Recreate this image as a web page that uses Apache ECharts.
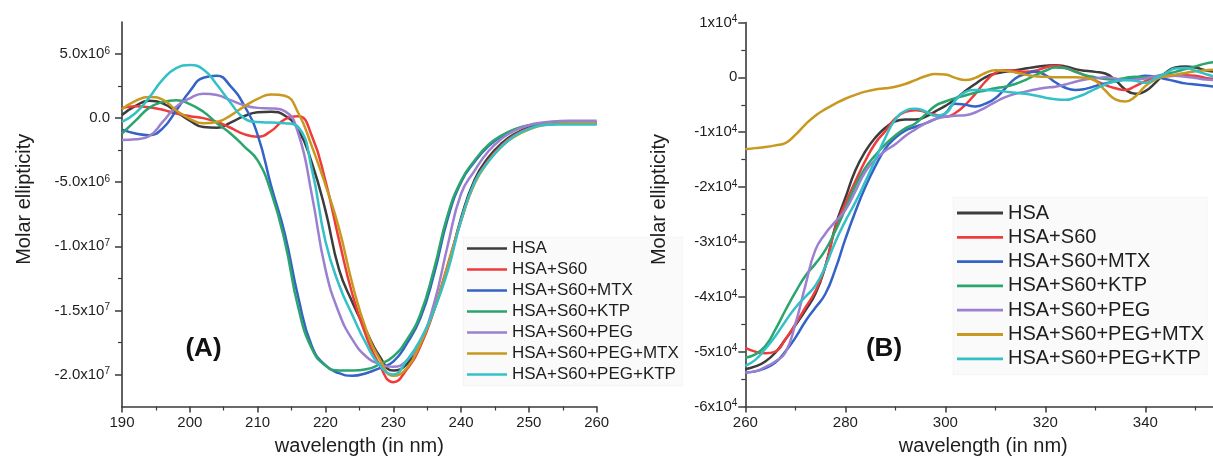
<!DOCTYPE html>
<html>
<head>
<meta charset="utf-8">
<script src="https://cdn.jsdelivr.net/npm/echarts@6/dist/echarts.min.js"></script>
<style>
html,body{margin:0;padding:0;background:#ffffff;}
#chart{width:1213px;height:465px;}
</style>
</head>
<body>
<div id="chart"></div>
<script>
// ---------------- DATA ----------------
const seriesNames = ['HSA', 'HSA+S60', 'HSA+S60+MTX', 'HSA+S60+KTP', 'HSA+S60+PEG', 'HSA+S60+PEG+MTX', 'HSA+S60+PEG+KTP'];

// Panel (A): wavelength (nm), molar ellipticity in units of 10^6
const wavelengthA = [190,192,194,196,198,200,202,204,206,208,210,212,214,216,218,220,222,224,226,228,230,232,234,236,238,240,242,244,246,248,250,252,254,256,258,260];
const a_HSA = [0.25,0.95,1.35,1.15,0.5,-0.2,-0.7,-0.75,-0.35,0.15, 0.45,0.5,0.2,-0.9,-3.5,-7.2,-11.8,-14.4,-16.6,-18.6, -19.7,-19.2,-17.5,-15.0,-11.8,-7.8,-4.8,-3.1,-1.95,-1.2, -0.75,-0.5,-0.4,-0.35,-0.35,-0.35];
const a_S60 = [0.8,0.92,0.85,0.65,0.35,0.15,0.0,-0.3,-0.75,-1.25, -1.45,-1.0,-0.1,0.15,-1.4,-4.9,-9.5,-13.8,-17.0,-19.3, -20.6,-19.6,-17.8,-15.0,-11.5,-8.0,-5.0,-3.3,-2.1,-1.3, -0.8,-0.5,-0.4,-0.35,-0.35,-0.35];
const a_MTX = [-0.9,-1.2,-1.33,-0.8,0.6,2.1,3.15,3.3,2.5,1.0, -1.3,-5.3,-9.0,-14.0,-17.8,-19.3,-19.9,-20.1,-19.9,-19.5, -19.0,-17.6,-15.6,-12.2,-7.9,-5.0,-3.4,-2.2,-1.4,-0.88, -0.6,-0.45,-0.4,-0.4,-0.4,-0.4];
const a_KTP = [-1.2,-0.2,0.8,1.25,1.4,1.1,0.5,-0.4,-1.2,-2.2, -3.3,-5.8,-9.6,-14.8,-18.0,-19.3,-19.7,-19.7,-19.6,-19.2, -18.6,-17.3,-15.3,-11.8,-7.6,-4.9,-3.3,-2.1,-1.35,-0.85, -0.55,-0.45,-0.4,-0.4,-0.4,-0.4];
const a_PEG = [-1.7,-1.65,-1.4,-0.3,0.9,1.55,1.9,1.8,1.4,1.0, 0.8,0.76,0.55,-1.2,-6.0,-11.8,-15.2,-17.3,-18.6,-19.2, -19.4,-18.9,-17.4,-14.5,-10.0,-5.9,-4.1,-2.6,-1.6,-0.95, -0.55,-0.35,-0.25,-0.2,-0.2,-0.2];
const a_PEG_MTX = [0.7,1.35,1.65,1.45,0.6,-0.05,-0.4,-0.3,0.2,0.9, 1.5,1.85,1.75,0.4,-2.2,-5.2,-8.6,-13.0,-16.5,-18.8, -20.1,-19.5,-17.6,-15.0,-11.6,-8.0,-5.1,-3.4,-2.2,-1.4, -0.9,-0.55,-0.45,-0.4,-0.4,-0.4];
const a_PEG_KTP = [-0.3,0.4,1.6,3.0,3.9,4.14,3.8,2.6,1.2,0.0, -0.3,-0.35,-0.4,-0.7,-4.0,-9.6,-13.0,-15.4,-17.6,-19.3, -20.0,-18.9,-17.3,-15.0,-12.0,-8.0,-5.0,-3.4,-2.2,-1.35, -0.85,-0.55,-0.5,-0.5,-0.5,-0.5];

// Panel (B): wavelength (nm), molar ellipticity in units of 10^4
const wavelengthB = [260,262,264,266,268,270,272,274,276,278,280,282,284,286,288,290,292,294,296,298,300,302,304,306,308,310,312,314,316,318,320,322,324,326,328,330,332,334,336,338,340,342,344,346,348,350,352,354];
const b_HSA = [-5.32,-5.27,-5.18,-5.02,-4.78,-4.52,-4.25,-3.95,-3.45,-2.72, -2.2,-1.7,-1.35,-1.1,-0.92,-0.8,-0.77,-0.77,-0.72,-0.62, -0.52,-0.4,-0.25,-0.12,0.0,0.07,0.1,0.13,0.16,0.19, 0.21,0.22,0.2,0.15,0.12,0.1,0.07,-0.05,-0.22,-0.3, -0.25,-0.1,0.08,0.18,0.2,0.18,0.13,0.1];
const b_S60 = [-4.93,-5.0,-5.03,-5.0,-4.78,-4.5,-4.2,-3.9,-3.45,-2.75, -2.3,-1.9,-1.52,-1.2,-0.98,-0.75,-0.63,-0.6,-0.63,-0.68, -0.72,-0.65,-0.5,-0.3,-0.08,0.08,0.13,0.12,0.1,0.12, 0.18,0.21,0.17,0.11,0.03,-0.06,-0.14,-0.2,-0.23,-0.16, -0.07,0.0,0.02,0.03,0.04,0.03,-0.01,-0.03];
const b_MTX = [-5.38,-5.36,-5.3,-5.2,-5.0,-4.75,-4.45,-4.2,-3.95,-3.5, -2.95,-2.45,-2.0,-1.62,-1.3,-1.1,-0.97,-0.9,-0.84,-0.76, -0.66,-0.48,-0.5,-0.53,-0.48,-0.38,-0.2,-0.02,0.06,0.1, 0.04,-0.09,-0.19,-0.23,-0.21,-0.16,-0.11,-0.07,-0.04,-0.01, 0.03,0.01,-0.03,-0.07,-0.11,-0.13,-0.15,-0.17];
const b_KTP = [-5.11,-5.05,-4.9,-4.6,-4.25,-3.92,-3.62,-3.4,-3.15,-2.8, -2.4,-1.98,-1.65,-1.42,-1.22,-1.06,-0.93,-0.84,-0.68,-0.52, -0.44,-0.38,-0.33,-0.28,-0.24,-0.2,-0.17,-0.12,-0.05,0.04, 0.12,0.18,0.17,0.1,0.04,0.0,-0.03,-0.04,-0.01,0.01, 0.0,0.02,0.06,0.1,0.15,0.2,0.25,0.28];
const b_PEG = [-5.38,-5.36,-5.28,-5.18,-5.02,-4.5,-3.8,-3.15,-2.85,-2.63, -2.42,-2.08,-1.72,-1.5,-1.34,-1.22,-1.07,-0.95,-0.84,-0.76, -0.72,-0.7,-0.69,-0.64,-0.55,-0.45,-0.36,-0.3,-0.26,-0.22, -0.19,-0.17,-0.13,-0.08,-0.04,-0.02,0.0,-0.02,-0.05,-0.04, -0.02,0.02,0.03,0.03,0.01,-0.01,-0.04,-0.05];
const b_PEG_MTX = [-1.31,-1.29,-1.27,-1.24,-1.2,-1.05,-0.86,-0.7,-0.58,-0.48, -0.39,-0.32,-0.26,-0.22,-0.2,-0.17,-0.12,-0.05,0.02,0.06, 0.05,-0.01,-0.05,-0.01,0.08,0.13,0.12,0.09,0.05,0.02, 0.01,0.0,0.0,0.0,-0.01,-0.06,-0.24,-0.4,-0.44,-0.35, -0.16,-0.04,0.02,0.05,0.08,0.11,0.13,0.14];
const b_PEG_KTP = [-5.26,-5.15,-4.95,-4.72,-4.45,-4.2,-4.0,-3.8,-3.45,-3.0, -2.62,-2.28,-1.9,-1.5,-1.1,-0.77,-0.61,-0.57,-0.62,-0.7, -0.66,-0.42,-0.27,-0.23,-0.23,-0.24,-0.26,-0.28,-0.3,-0.33, -0.37,-0.4,-0.41,-0.37,-0.3,-0.21,-0.13,-0.07,-0.05,-0.06, -0.1,-0.02,0.07,0.16,0.17,0.12,0.06,0.01];

// Tick labels
const yTickValuesA = [5, 0, -5, -10, -15, -20];
const yTickMantA = ['5.0x10', '0.0', '-5.0x10', '-1.0x10', '-1.5x10', '-2.0x10'];
const yTickExpA = ['6', '', '6', '7', '7', '7'];
const yMinorTicksA = [2.5, -2.5, -7.5, -12.5, -17.5];
const yTickValuesB = [1, 0, -1, -2, -3, -4, -5, -6];
const yTickMantB = ['1x10', '0', '-1x10', '-2x10', '-3x10', '-4x10', '-5x10', '-6x10'];
const yTickExpB = ['4', '', '4', '4', '4', '4', '4', '4'];

// ---------------- STYLE ----------------
const colors = ['#3c3c3c', '#ef3b3b', '#3462c6', '#2aa56d', '#9b80d0', '#c9981f', '#33c0c6'];
const FONT = '"Liberation Sans", Arial, Helvetica, sans-serif';
const AXIS_COLOR = '#3a3a3a';
const TEXT_COLOR = '#1e1e1e';

const dataA = [a_HSA, a_S60, a_MTX, a_KTP, a_PEG, a_PEG_MTX, a_PEG_KTP];
const dataB = [b_HSA, b_S60, b_MTX, b_KTP, b_PEG, b_PEG_MTX, b_PEG_KTP];

function pairs(xs, ys) { return xs.map(function (x, i) { return [x, ys[i]]; }); }
function makeFmt(vals, mants, exps) {
  return function (v) {
    const i = vals.findIndex(function (t) { return Math.abs(t - v) < 1e-6; });
    if (i < 0) return '';
    return exps[i] ? '{m|' + mants[i] + '}{e|' + exps[i] + '}' : '{m|' + mants[i] + '}';
  };
}
const richTick = {
  m: { fontSize: 15, fontFamily: FONT, color: TEXT_COLOR, lineHeight: 16 },
  e: { fontSize: 10, fontFamily: FONT, color: TEXT_COLOR, lineHeight: 16, verticalAlign: 'top' }
};
const axisLineStyle = { color: AXIS_COLOR, width: 1.6 };

const series = [];
seriesNames.forEach(function (n, i) {
  series.push({ type: 'line', name: n, xAxisIndex: 0, yAxisIndex: 0, data: pairs(wavelengthA, dataA[i]),
    smooth: 0.5, symbol: 'none', showSymbol: false, lineStyle: { color: colors[i], width: 2.5 }, itemStyle: { color: colors[i] } });
});
seriesNames.forEach(function (n, i) {
  series.push({ type: 'line', name: n, xAxisIndex: 1, yAxisIndex: 2, data: pairs(wavelengthB, dataB[i]),
    smooth: 0.5, symbol: 'none', showSymbol: false, lineStyle: { color: colors[i], width: 2.5 }, itemStyle: { color: colors[i] } });
});

const option = {
  animation: false,
  backgroundColor: '#ffffff',
  grid: [
    { left: 122, top: 22, width: 474.7, height: 384.5, containLabel: false, outerBoundsMode: 'none' },
    { left: 745.3, top: 22.5, width: 500, height: 384, containLabel: false, outerBoundsMode: 'none' }
  ],
  xAxis: [
    { type: 'value', gridIndex: 0, min: 190, max: 260, interval: 10,
      axisLine: { show: true, onZero: false, lineStyle: axisLineStyle },
      axisTick: { show: true, length: 6, lineStyle: { color: AXIS_COLOR, width: 1.5 } },
      minorTick: { show: true, splitNumber: 2, length: 4, lineStyle: { color: AXIS_COLOR, width: 1.2 } },
      splitLine: { show: false }, minorSplitLine: { show: false },
      axisLabel: { fontSize: 15, color: TEXT_COLOR, fontFamily: FONT, margin: 9 },
      name: 'wavelength (in nm)', nameLocation: 'middle', nameGap: 30,
      nameTextStyle: { fontSize: 20, color: TEXT_COLOR, fontFamily: FONT } },
    { type: 'value', gridIndex: 1, min: 260, max: 360, interval: 20,
      axisLine: { show: true, onZero: false, lineStyle: axisLineStyle },
      axisTick: { show: true, length: 6, lineStyle: { color: AXIS_COLOR, width: 1.5 } },
      minorTick: { show: true, splitNumber: 2, length: 4, lineStyle: { color: AXIS_COLOR, width: 1.2 } },
      splitLine: { show: false }, minorSplitLine: { show: false },
      axisLabel: { fontSize: 15, color: TEXT_COLOR, fontFamily: FONT, margin: 9 },
      name: 'wavelength (in nm)', nameLocation: 'middle', nameGap: 30,
      nameTextStyle: { fontSize: 20, color: TEXT_COLOR, fontFamily: FONT, padding: [0, 24, 0, 0] } }
  ],
  yAxis: [
    { type: 'value', gridIndex: 0, min: -22.5, max: 7.5, interval: 2.5, position: 'left',
      axisLine: { show: true, onZero: false, lineStyle: axisLineStyle },
      axisTick: { show: true, length: 7, customValues: yTickValuesA, lineStyle: { color: AXIS_COLOR, width: 1.5 } },
      splitLine: { show: false },
      axisLabel: { customValues: yTickValuesA, formatter: makeFmt(yTickValuesA, yTickMantA, yTickExpA), rich: richTick, margin: 12 },
      name: 'Molar ellipticity', nameLocation: 'middle', nameGap: 88,
      nameTextStyle: { fontSize: 20, color: TEXT_COLOR, fontFamily: FONT, padding: [0, 0, 0, 30] } },
    { type: 'value', gridIndex: 0, min: -22.5, max: 7.5, interval: 2.5, position: 'left',
      axisLine: { show: false, onZero: false },
      axisTick: { show: true, length: 4, customValues: yMinorTicksA, lineStyle: { color: AXIS_COLOR, width: 1.2 } },
      splitLine: { show: false },
      axisLabel: { show: false } },
    { type: 'value', gridIndex: 1, min: -6, max: 1, interval: 1, position: 'left',
      axisLine: { show: true, onZero: false, lineStyle: axisLineStyle },
      axisTick: { show: true, length: 7, lineStyle: { color: AXIS_COLOR, width: 1.5 } },
      minorTick: { show: true, splitNumber: 2, length: 4, lineStyle: { color: AXIS_COLOR, width: 1.2 } },
      splitLine: { show: false }, minorSplitLine: { show: false },
      axisLabel: { formatter: makeFmt(yTickValuesB, yTickMantB, yTickExpB), rich: richTick, margin: 8 },
      name: 'Molar ellipticity', nameLocation: 'middle', nameGap: 76,
      nameTextStyle: { fontSize: 20, color: TEXT_COLOR, fontFamily: FONT, padding: [0, 0, 0, 30] } }
  ],
  legend: [
    { orient: 'vertical', left: 463, top: 237, padding: [3, 4, 3, 4], itemWidth: 40, itemHeight: 2.6, itemGap: 4, icon: 'rect',
      data: seriesNames, selectedMode: false, backgroundColor: 'rgba(0,0,0,0.018)', borderColor: 'rgba(0,0,0,0.03)', borderWidth: 1,
      textStyle: { fontSize: 17, lineHeight: 17, color: TEXT_COLOR, fontFamily: FONT } },
    { orient: 'vertical', left: 953, top: 197, padding: [6, 3, 6, 4], itemWidth: 46, itemHeight: 2.8, itemGap: 4.3, icon: 'rect',
      data: seriesNames, selectedMode: false, backgroundColor: 'rgba(0,0,0,0.018)', borderColor: 'rgba(0,0,0,0.03)', borderWidth: 1,
      textStyle: { fontSize: 20, lineHeight: 20, color: TEXT_COLOR, fontFamily: FONT } }
  ],
  graphic: [
    { type: 'text', x: 203.5, y: 349, style: { text: '(A)', align: 'center', verticalAlign: 'middle', fontSize: 26, fontWeight: 'bold', fontFamily: FONT, fill: '#111111' } },
    { type: 'text', x: 884, y: 349, style: { text: '(B)', align: 'center', verticalAlign: 'middle', fontSize: 26, fontWeight: 'bold', fontFamily: FONT, fill: '#111111' } }
  ],
  series: series
};

const chart = echarts.init(document.getElementById('chart'), null, { renderer: 'canvas', width: 1213, height: 465 });
chart.setOption(option);
</script>
</body>
</html>
